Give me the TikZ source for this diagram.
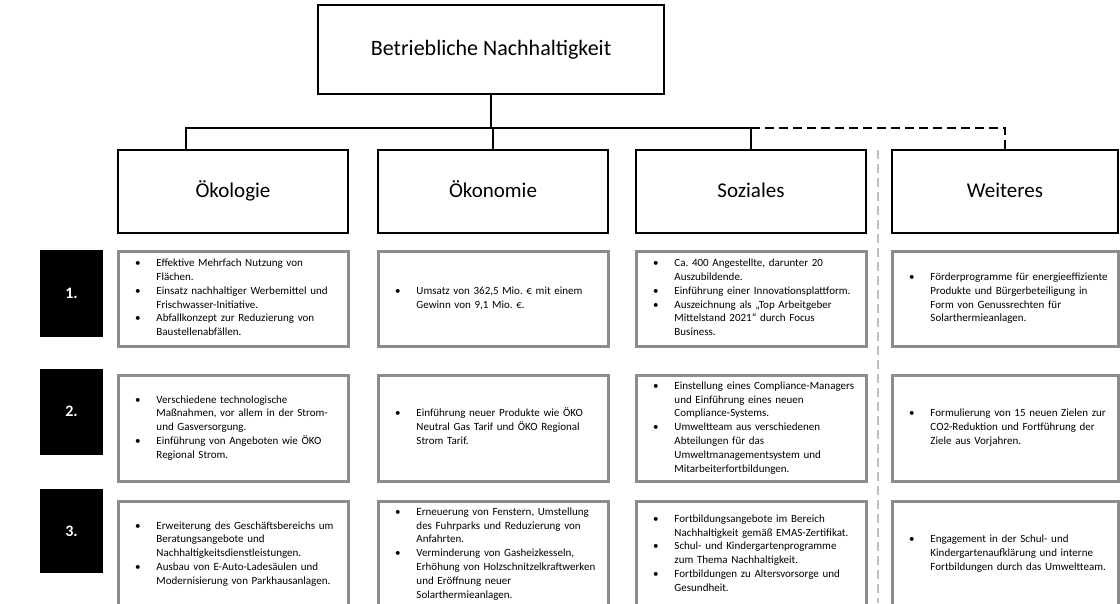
\documentclass[tikz,border=0pt]{standalone}
\usepackage{fontspec}
\setmainfont{Carlito}
\usepackage{tikz}
\usetikzlibrary{positioning}

% Aufzaehlung ohne Umbruch
\newcommand{\liste}[1]{\hspace*{15pt}\begin{tabular}{@{}l@{\hspace{16pt}}l@{}}#1\end{tabular}}
\newcommand{\pkt}{\textbullet &}

\begin{document}
\frenchspacing
\begin{tikzpicture}[x=1pt,y=-1pt,
    kasten/.style={draw,line width=2.5pt,minimum width=230pt,minimum height=83pt,text height=15pt,text depth=4pt,
                   font=\fontsize{21}{25}\selectfont},
    inhalt/.style={draw=black!45,line width=3pt,minimum width=230pt,text width=226pt,inner xsep=2pt,
                   align=left,font=\fontsize{11}{13.8}\selectfont},
    nummer/.style={fill=black,text=white,minimum width=63pt,font=\bfseries\fontsize{16}{19}\selectfont},
    linie/.style={line width=2.5pt},
    trenner/.style={black!25,line width=1.5pt,dash pattern=on 9pt off 5pt}]

    % Rahmen
    \useasboundingbox (0,0) rectangle (1120,603);
    \clip (0,0) rectangle (1120,603);

    % Kopf
    \node[kasten,minimum width=346pt,minimum height=89pt,font=\fontsize{22}{26}\selectfont] (titel) at (491,49.5) {Betriebliche Nachhaltigkeit};

    % Saeulen
    \node[kasten] (oeko) at (233,191.5) {Ökologie};
    \node[kasten] (oekon) at (493,191.5) {Ökonomie};
    \node[kasten] (soz) at (751,191.5) {Soziales};
    \node[kasten,minimum width=226pt] (weit) at (1005,191.5) {Weiteres};

    % Verbindungen
    \coordinate (abzw) at (186,128);
    \draw[linie] (titel) -- (titel |- abzw);
    \draw[linie] (abzw |- oeko.north) -- (abzw) -- (soz.north |- abzw) -- (soz.north);
    \draw[linie] (oekon.north |- abzw) -- (oekon.north);
    \draw[linie,dash pattern=on 9pt off 5pt] (soz.north |- abzw) -| (weit.north);

    % Trennlinie
    \draw[trenner] (878,150) -- (878,603);

    % Nummern
    \foreach \n/\y/\h in {1/293.5/87,2/411.5/86,3/531/84}
        \node[nummer,minimum height=\h pt] (z\n) at (71.5,\y) {\n.};

    % Zeile 1
    \node[inhalt,minimum height=95pt] (a1) at (233,298.5) {\liste{
        \pkt Effektive Mehrfach Nutzung von\\ & Flächen.\\
        \pkt Einsatz nachhaltiger Werbemittel und\\ & Frischwasser-Initiative.\\
        \pkt Abfallkonzept zur Reduzierung von\\ & Baustellenabfällen.}};
    \node[inhalt,minimum height=95pt] (b1) at (493,298.5) {\liste{
        \pkt Umsatz von 362,5 Mio. € mit einem\\ & Gewinn von 9,1 Mio. €.}};
    \node[inhalt,minimum height=95pt] (c1) at (751,298.5) {\liste{
        \pkt Ca. 400 Angestellte, darunter 20\\ & Auszubildende.\\
        \pkt Einführung einer Innovationsplattform.\\
        \pkt Auszeichnung als „Top Arbeitgeber\\ & Mittelstand 2021“ durch Focus\\ & Business.}};
    \node[inhalt,minimum height=95pt,minimum width=226pt,text width=222pt] (d1) at (1005,298.5) {\liste{
        \pkt Förderprogramme für energieeffiziente\\ & Produkte und Bürgerbeteiligung in\\
        & Form von Genussrechten für\\ & Solarthermieanlagen.}};

    % Zeile 2
    \node[inhalt,minimum height=106pt] (a2) at (233,428) {\liste{
        \pkt Verschiedene technologische\\ & Maßnahmen, vor allem in der Strom-\\ & und Gasversorgung.\\
        \pkt Einführung von Angeboten wie ÖKO\\ & Regional Strom.}};
    \node[inhalt,minimum height=106pt] (b2) at (493,428) {\liste{
        \pkt Einführung neuer Produkte wie ÖKO\\ & Neutral Gas Tarif und ÖKO Regional\\ & Strom Tarif.}};
    \node[inhalt,minimum height=106pt] (c2) at (751,428) {\liste{
        \pkt Einstellung eines Compliance-Managers\\ & und Einführung eines neuen\\ & Compliance-Systems.\\
        \pkt Umweltteam aus verschiedenen\\ & Abteilungen für das\\
        & Umweltmanagementsystem und\\ & Mitarbeiterfortbildungen.}};
    \node[inhalt,minimum height=106pt,minimum width=226pt,text width=222pt] (d2) at (1005,428) {\liste{
        \pkt Formulierung von 15 neuen Zielen zur\\ & CO2-Reduktion und Fortführung der\\ & Ziele aus Vorjahren.}};

    % Zeile 3
    \node[inhalt,minimum height=106pt] (a3) at (233,554) {\liste{
        \pkt Erweiterung des Geschäftsbereichs um\\ & Beratungsangebote und\\ & Nachhaltigkeitsdienstleistungen.\\
        \pkt Ausbau von E-Auto-Ladesäulen und\\ & Modernisierung von Parkhausanlagen.}};
    \node[inhalt,minimum height=106pt] (b3) at (493,554) {\liste{
        \pkt Erneuerung von Fenstern, Umstellung\\ & des Fuhrparks und Reduzierung von\\ & Anfahrten.\\
        \pkt Verminderung von Gasheizkesseln,\\ & Erhöhung von Holzschnitzelkraftwerken\\
        & und Eröffnung neuer\\ & Solarthermieanlagen.}};
    \node[inhalt,minimum height=106pt] (c3) at (751,554) {\liste{
        \pkt Fortbildungsangebote im Bereich\\ & Nachhaltigkeit gemäß EMAS-Zertifikat.\\
        \pkt Schul- und Kindergartenprogramme\\ & zum Thema Nachhaltigkeit.\\
        \pkt Fortbildungen zu Altersvorsorge und\\ & Gesundheit.}};
    \node[inhalt,minimum height=106pt,minimum width=226pt,text width=222pt] (d3) at (1005,554) {\liste{
        \pkt Engagement in der Schul- und\\ & Kindergartenaufklärung und interne\\
        & Fortbildungen durch das Umweltteam.}};
\end{tikzpicture}
\end{document}
